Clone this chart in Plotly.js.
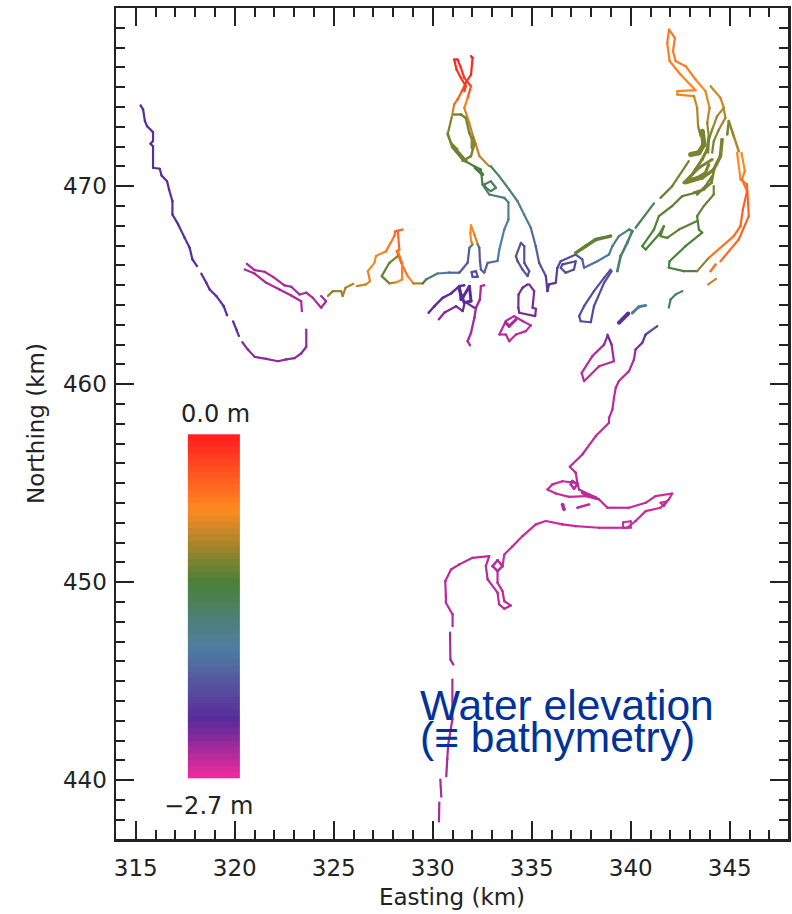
<!DOCTYPE html>
<html><head><meta charset="utf-8">
<script src="https://cdn.plot.ly/plotly-3.0.1.min.js"></script>
<style>html,body{margin:0;padding:0;background:#fff}</style></head>
<body><div id="chart" style="width:792px;height:914px"></div>
<script>
// Elevation colour scale (fraction of -2.7..0 m, colour)
const stops=[[0,'#ea2a9c'],[0.162,'#5a2a9b'],[0.38,'#4f7fa2'],[0.573,'#4a8036'],[0.786,'#ff8a20'],[1,'#ff2020']];
const colourbarLevels=[-2.7,-2.65,-2.6,-2.55,-2.5,-2.45,-2.4,-2.35,-2.3,-2.25,-2.2,-2.15,-2.1,-2.05,-2,-1.95,-1.9,-1.85,-1.8,-1.75,-1.7,-1.65,-1.6,-1.55,-1.5,-1.45,-1.4,-1.35,-1.3,-1.25,-1.2,-1.15,-1.1,-1.05,-1,-0.95,-0.9,-0.85,-0.8,-0.75,-0.7,-0.65,-0.6,-0.55,-0.5,-0.45,-0.4,-0.35,-0.3,-0.25,-0.2,-0.15,-0.1,-0.05,0];

// Easting km, Northing km, elevation m
const westAX=[315.24,315.37,315.46,315.57,315.87,315.87,315.74,315.87,315.87,316.21,316.30,316.58,316.68,316.85,316.85,317.14,317.47,317.72,317.86,318.09];
const westAY=[474.08,473.87,473.29,473.03,472.73,472.28,472.14,472.02,470.93,470.88,470.54,470.25,469.83,469.24,468.57,468.07,467.39,466.89,466.30,465.96];
const westBX=[318.31,318.56,318.73,319.07,319.44,319.61];
const westBY=[465.58,465.12,464.78,464.45,463.94,463.47];
const westCX=[319.91,320.08,320.21];
const westCY=[463.18,462.76,462.43];
const westDX=[320.38,320.66,321.0,321.59,322.18,322.6,323.02,323.35,323.61,323.61];
const westDY=[462.12,461.75,461.38,461.28,461.16,461.25,461.32,461.55,461.89,462.76];
const spitUpX=[320.61,321.0,321.5,321.93,322.51,322.85,323.27,323.61,323.94,324.36,324.61,324.36];
const spitUpY=[466.08,465.76,465.68,465.42,464.99,464.92,464.53,464.62,464.36,463.86,464.19,464.45];
const spitLoX=[320.5,321.0,321.59,322.26,322.85,323.35,323.39];
const spitLoY=[465.79,465.59,465.12,464.78,464.48,464.19,463.69];
const midAX=[324.70,324.95,325.37,325.45,325.59,325.99];
const midAY=[464.45,464.70,464.70,464.45,464.87,465.07];
const midAZ=[-0.95,-0.92,-0.9,-0.9,-0.85,-0.82];
const midBX=[326.16,326.63,326.83,326.72,327.05,327.13,327.64,328.06,328.11,328.48];
const midBY=[464.95,465.04,465.20,465.71,466.13,466.47,466.72,467.48,467.73,467.81];
const midBZ=[-0.8,-0.72,-0.7,-0.65,-0.6,-0.58,-0.5,-0.42,-0.38,-0.38];
const midCX=[328.23,328.31,328.18,328.40,328.73,329.02,329.49,329.66,330.24,330.84,331.34,331.76,331.85,332.01];
const midCY=[467.73,466.80,466.72,466.13,465.46,465.09,465.09,465.29,465.59,465.63,465.63,466.13,466.89,467.06];
const midCZ=[-0.38,-0.38,-0.38,-0.4,-0.5,-0.6,-1.1,-1.25,-1.6,-1.8,-1.9,-1.95,-1.95,-1.0];
const midLoopX=[328.23,327.81,327.42,327.81,328.18,328.45,328.45,328.23];
const midLoopY=[466.47,466.13,465.46,465.09,465.15,465.29,466.13,466.72];
const midLoopZ=[-0.95,-1.05,-1.1,-1.0,-0.7,-0.55,-0.5,-0.4];
const peakX=[332.01,331.93,331.9,331.93,332.10,332.27,332.35,332.38,332.43,332.6,332.77,333.27,333.36,333.61,333.82,333.82,333.61,332.85,332.51,332.43,332.09,331.50,331.0,330.75,330.97,331.08,331.25,331.47,331.67,331.93,332.01,331.93];
const peakY=[467.06,467.23,467.65,468.02,467.56,467.06,466.89,466.22,465.79,465.63,466.13,466.22,466.80,467.81,468.32,469.19,469.41,469.58,470.09,470.84,471.01,471.35,471.94,472.61,473.54,474.13,474.38,474.8,475.22,475.64,476.48,476.57];
const peakZ=[-1.0,-0.6,-0.55,-0.55,-0.6,-0.8,-1.9,-1.95,-1.95,-1.9,-1.85,-1.75,-1.7,-1.65,-1.6,-1.55,-1.5,-1.4,-1.3,-1.2,-1.15,-1.1,-1.05,-1.0,-1.0,-0.5,-0.35,-0.3,-0.15,-0.05,0,0];
const northAX=[331.08,331.25,331.42,331.59,331.93,331.76,331.59,331.84,332.01,332.18,332.35,332.85];
const northAY=[476.4,476.4,475.98,475.47,475.05,474.46,473.96,473.2,472.61,472.11,471.52,471.01];
const northAZ=[0,0,-0.05,-0.1,-0.15,-0.4,-0.65,-0.72,-0.78,-0.8,-0.78,-0.8];
const northBX=[331.08,331.2,331.42,331.67,331.59];
const northBY=[476.4,475.9,475.47,475.05,474.8];
const northBZ=[-0.02,-0.05,-0.08,-0.15,-0.2];
const innerX=[331.08,331.42,331.67,331.84,332.09,331.93,331.5];
const innerY=[473.62,473.62,473.45,472.7,472.11,471.52,471.27];
const loopShoreX=[331.0,331.67];
const loopShoreY=[472.02,471.27];
const loopFootX=[332.15,332.51];
const loopFootY=[470.93,470.59];
const loopCoreX=[332.01,332.01];
const loopCoreY=[472.44,471.94];
const loopEdgeX=[330.75,330.92,331.25];
const loopEdgeY=[472.7,472.19,471.85];
const channelX=[332.93,333.35,333.86,334.28,334.61,334.95,335.2,335.37,335.71,335.79];
const channelY=[471.01,470.51,469.83,469.24,468.57,467.9,466.97,466.13,465.46,464.7];
const channelZ=[-1.25,-1.35,-1.45,-1.55,-1.65,-1.75,-1.85,-1.95,-2.1,-2.2];
const diamondX=[332.6,332.93,333.19,332.93,332.68,332.6];
const diamondY=[470.09,470.25,469.92,469.75,469.92,470.09];
const outflowX=[335.79,335.87,336.21,336.29,336.46,337.22,337.55,337.64,338.31,338.9,339.07,339.4,339.91];
const outflowY=[464.7,465.04,465.12,465.88,466.21,466.55,466.3,465.88,466.21,466.55,466.97,467.48,467.81];
const outflowZ=[-2.2,-2.2,-2.15,-2.1,-2.05,-2.0,-1.95,-1.85,-1.75,-1.65,-1.55,-1.5,-1.4];
const outLoopX=[336.46,336.71,337.13,337.22,336.55,336.46];
const outLoopY=[465.88,465.63,465.79,466.21,466.05,465.88];
const greenBarX=[337.22,337.72,338.23,338.98];
const greenBarY=[466.63,466.97,467.31,467.48];
const tealX=[339.32,339.49,339.82,340.08,339.91];
const tealY=[465.71,466.47,467.14,467.73,467.81];
const purpleLoopX=[338.98,338.65,338.14,337.64,337.39,337.47,337.98,338.14,338.65,339.03];
const purpleLoopY=[465.79,465.37,464.7,463.94,463.44,463.18,463.13,463.94,465.12,465.71];
const darkBitX=[339.4,339.87];
const darkBitY=[463.1,463.57];
const blueBitX=[340.08,340.41,340.75];
const blueBitY=[463.6,463.91,463.98];
const tealBitX=[341.92,342.01,342.26,342.6];
const tealBitY=[463.86,464.28,464.53,464.7];
const brownBitX=[343.91,344.31];
const brownBitY=[465.04,465.32];
const orangeBitX=[344.03,344.28];
const orangeBitY=[465.71,466.05];
const rightAX=[341.93,342.23,342.13,342.26,342.77,343.27,343.77,343.98,343.86,343.94,343.91];
const rightAY=[477.91,477.49,476.82,476.32,476.06,475.39,474.8,473.96,473.2,472.53,471.69];
const rightAZ=[-0.45,-0.45,-0.5,-0.5,-0.5,-0.52,-0.6,-0.72,-0.85,-1.0,-1.0];
const rightBX=[341.93,341.84,341.96,342.51,343.27,342.35,342.35,343.19,343.35,343.40,343.52];
const rightBY=[477.91,477.24,476.32,475.64,474.85,474.8,474.63,474.55,473.96,473.03,472.53];
const rightBZ=[-0.45,-0.5,-0.5,-0.52,-0.55,-0.55,-0.6,-0.7,-0.78,-0.9,-1.0];
const massX=[343.61,343.69,343.44,343.02];
const massY=[472.78,472.11,471.69,471.6];
const diagAX=[342.93,342.09,341.5];
const diagAY=[471.27,470.0,469.41];
const diagAZ=[-1.0,-1.05,-1.1];
const diagBX=[341.17,340.24];
const diagBY=[469.13,467.9];
const diagBZ=[-1.2,-1.35];
const strandAX=[344.03,344.53,344.7,344.36,344.11,343.97];
const strandAY=[475.05,474.46,473.96,473.54,472.86,472.44];
const strandAZ=[-0.75,-0.75,-0.78,-0.85,-0.95,-1.0];
const strandBX=[344.7,344.78,344.45,344.19,344.11];
const strandBY=[473.87,473.45,472.86,472.27,471.69];
const strandBZ=[-0.78,-0.82,-0.92,-1.0,-1.0];
const strandCX=[344.87,344.95,345.2,345.45];
const strandCY=[472.61,473.29,472.53,471.77];
const strandCZ=[-1.0,-1.0,-0.9,-0.72];
const strandDX=[344.61,344.53,344.19,343.61,342.76];
const strandDY=[472.36,471.52,470.84,470.42,470.17];
const strandEX=[344.11,343.44,343.02,342.68];
const strandEY=[471.35,470.93,470.51,470.17];
const strandFX=[344.11,343.77,343.35];
const strandFY=[470.5,470.0,469.58];
const denseAX=[343.94,343.86,343.6,343.27,343.1];
const denseAY=[472.45,471.86,471.35,470.85,470.6];
const denseCX=[344.19,344.08,343.69,343.18];
const denseCY=[470.76,470.17,469.84,469.67];
const denseDX=[343.94,343.77,343.35,342.93];
const denseDY=[471.1,470.68,470.43,470.34];
const lobeAX=[344.19,344.19,343.69,343.35,343.44,343.61,342.76,341.96,341.92,342.68,343.35,343.94];
const lobeAY=[470.0,469.58,469.0,468.49,467.81,467.65,466.97,466.21,465.88,465.71,465.71,466.38];
const lobeAZ=[-1.0,-1.05,-1.05,-1.1,-1.15,-1.15,-1.15,-1.2,-1.2,-1.2,-1.15,-0.8];
const lobeBX=[343.69,343.27,342.6,342.09,341.42,341.17,340.58,340.75,341.42,341.67,341.5,341.84,342.43,343.35];
const lobeBY=[469.83,469.67,469.5,469.0,468.49,467.81,466.97,466.8,467.56,467.98,467.48,467.39,467.81,468.24];
const lobeBZ=[-1.0,-1.05,-1.1,-1.1,-1.1,-1.15,-1.2,-1.2,-1.15,-1.1,-1.1,-1.1,-1.1,-1.1];
const outerAX=[345.37,345.54,345.87,345.96,345.45,344.53];
const outerAY=[471.69,470.34,470.09,468.49,467.31,466.21];
const outerAZ=[-0.6,-0.55,-0.4,-0.35,-0.38,-0.4];
const outerBX=[345.59,345.76,345.62,345.87,345.66,345.54,345.2,343.94];
const outerBY=[471.69,470.76,470.34,469.75,468.82,467.98,467.48,466.38];
const outerBZ=[-0.6,-0.55,-0.5,-0.35,-0.35,-0.35,-0.4,-0.5];
const bankAX=[329.79,330.08,330.5,330.92,331.34,331.59];
const bankAY=[463.61,463.94,464.36,464.58,464.95,465.0];
const gridX=[331.34,331.43,331.51,331.85,331.93,331.59,331.34];
const gridY=[464.95,464.28,464.36,464.95,464.2,464.11,464.78];
const bankBX=[330.3,330.58,331.17,331.51,331.59];
const bankBY=[463.27,463.61,463.94,463.69,464.03];
const bankBZ=[-2.45,-2.42,-2.35,-2.3,-2.3];
const bankCX=[332.6,332.43,332.38,332.18,332.1,331.93,331.76,331.88];
const bankCY=[465.0,464.95,464.28,463.86,463.35,462.6,462.17,461.96];
const bankCZ=[-2.55,-2.55,-2.5,-2.45,-2.45,-2.5,-2.55,-2.55];
const bankDX=[331.71,332.1];
const bankDY=[464.11,463.86];
const squareX=[331.96,332.18,332.27,332.01,331.96];
const squareY=[465.66,465.71,465.42,465.42,465.66];
const slimX=[334.2,334.45,334.62,334.62,334.87,334.79,334.53,334.28,334.2];
const slimY=[466.47,467.14,466.97,466.13,465.71,465.46,465.79,466.22,466.47];
const shoalX=[334.79,334.53,334.33,334.32,334.37,335.17,335.21,335.04,335.12,334.87];
const shoalY=[465.04,464.87,464.53,463.86,463.61,463.44,463.81,463.86,464.7,465.04];
const pinkX=[333.36,333.69,334.11,334.53,334.95,334.7,334.2,333.86,333.69,333.36];
const pinkY=[462.51,463.19,463.44,463.19,462.97,462.68,462.51,462.17,462.51,462.51];
const pinkInX=[333.69,333.86,334.2];
const pinkInY=[463.1,462.93,463.27];
const isleX=[338.82,339.03,339.15,338.4,337.64,337.52,338.06,338.65,338.82];
const isleY=[462.5,462.0,461.16,460.91,460.15,460.57,461.42,462.0,462.43];
const isleZ=[-2.2,-2.4,-2.55,-2.55,-2.55,-2.55,-2.55,-2.5,-2.3];
const southAX=[341.34,340.75,340.58,340.24,340.16,339.91,339.4,339.24,339.15,339.07,338.9,338.9,338.23,337.55,336.92,337.22,337.3,337.39,337.89,338.4,338.82,339.91,340.75,341.25,342.09,341.92,341.5,340.75,340.24,339.82,338.4,337.22,336.55,335.71,335.2,334.53,334.03,333.61,333.52];
const southAY=[462.93,462.51,462.09,461.75,461.25,460.66,460.16,459.82,459.31,458.72,458.3,458.05,457.38,456.45,455.83,455.53,455.02,454.68,454.43,454.18,453.76,453.76,454.01,454.35,454.48,454.18,453.76,453.59,453.09,452.75,452.75,452.83,452.92,453.09,452.92,452.33,451.82,451.4,450.81];
const southAZ=[-2.0,-2.1,-2.3,-2.4,-2.5,-2.55,-2.55,-2.55,-2.55,-2.55,-2.55,-2.55,-2.55,-2.55,-2.55,-2.55,-2.55,-2.55,-2.55,-2.55,-2.58,-2.58,-2.58,-2.6,-2.6,-2.6,-2.6,-2.6,-2.6,-2.6,-2.6,-2.6,-2.6,-2.6,-2.6,-2.6,-2.6,-2.6,-2.6];
const smallLoopX=[333.52,333.27,333.02,333.27,333.52];
const smallLoopY=[450.81,451.11,450.81,450.56,450.81];
const southBX=[333.27,333.27,333.52,333.61,333.94,333.61,333.35,333.27,332.77,332.68,332.85,332.01,331.34,330.92,330.63,330.66,330.66,331.0,331.0];
const southBY=[450.56,449.97,449.55,449.04,448.82,448.66,448.88,449.47,450.14,450.81,451.32,451.23,450.9,450.64,450.05,449.3,448.96,448.37,447.78];
const southCX=[330.87,330.89,331.04];
const southCY=[447.45,446.09,445.84];
const southDX=[330.99,330.99,330.78,330.73,330.68];
const southDY=[445.08,443.08,441.8,441.05,440.19];
const southEX=[330.38,330.43];
const southEY=[440.03,439.17];
const southFX=[330.33,330.31];
const southFY=[438.87,437.91];
const barIsleX=[337.22,336.55,336.04,335.79,336.21,336.88,337.72,338.31];
const barIsleY=[455.02,455.1,454.94,454.68,454.48,454.31,454.35,454.21];
const barThickX=[337.56,338.23];
const barThickY=[454.52,454.26];
const ringX=[337.05,337.3,337.13,336.97,337.05];
const ringY=[455.11,454.94,454.72,454.94,455.11];
const blobAX=[336.55,336.63];
const blobAY=[453.93,453.67];
const blobBX=[337.3,337.89];
const blobBY=[453.76,453.93];
const boxX=[339.61,340.0,340.0,339.61,339.61];
const boxY=[453.03,453.08,452.75,452.75,453.03];
const tipX=[341.5,341.84,341.67,341.5];
const tipY=[454.01,454.09,453.84,454.01];

const xTickVals=[315,320,325,330,335,340,345];
const yTickVals=[440,450,460,470];

function colourAt(z){
  const f=Math.min(1,Math.max(0,(z+2.7)/2.7));
  for(let i=1;i<stops.length;i++){
    if(f<=stops[i][0]){
      const t=(f-stops[i-1][0])/(stops[i][0]-stops[i-1][0]);
      const a=stops[i-1][1],b=stops[i][1],c=[];
      for(let k=0;k<3;k++){
        const p=parseInt(a.substr(1+2*k,2),16),q=parseInt(b.substr(1+2*k,2),16);
        c.push(Math.round(p+(q-p)*t));
      }
      return 'rgb('+c.join(',')+')';
    }
  }
  return stops[stops.length-1][1];
}
const traces=[];
const barBottom=440.09,barTop=457.47,barDy=(barTop-barBottom)/colourbarLevels.length;
traces.push({type:'heatmap',x:[317.63,320.24],y0:barBottom+barDy/2,dy:barDy,z:colourbarLevels.map(v=>[v]),
  zmin:-2.7,zmax:0,colorscale:stops,showscale:false,hoverinfo:'skip'});
function draw(xs,ys,zs,w){
  w=w||2.2;
  for(let i=0;i<xs.length-1;i++){
    const z=zs.length===1?zs[0]:(zs[i]+zs[i+1])/2;
    const col=colourAt(z);
    traces.push({type:'scatter',mode:'lines+markers',x:[xs[i],xs[i+1]],y:[ys[i],ys[i+1]],
      line:{color:col,width:w},marker:{color:col,size:w},hoverinfo:'skip',showlegend:false});
  }
}
draw(westAX,westAY,[-2.25]);draw(westBX,westBY,[-2.28]);draw(westCX,westCY,[-2.3]);draw(westDX,westDY,[-2.42]);
draw(spitUpX,spitUpY,[-2.5]);draw(spitLoX,spitLoY,[-2.5]);
draw(midAX,midAY,midAZ);draw(midBX,midBY,midBZ);draw(midCX,midCY,midCZ);draw(midLoopX,midLoopY,midLoopZ);
draw(peakX,peakY,peakZ);draw(northAX,northAY,northAZ);draw(northBX,northBY,northBZ);draw(innerX,innerY,[-1.0],2.4);
draw(loopShoreX,loopShoreY,[-1.05],3.5);draw(loopFootX,loopFootY,[-1.2],3.5);draw(loopCoreX,loopCoreY,[-0.95],4);draw(loopEdgeX,loopEdgeY,[-1.0]);
draw(channelX,channelY,channelZ);draw(diamondX,diamondY,[-1.35]);
draw(outflowX,outflowY,outflowZ);draw(outLoopX,outLoopY,[-2.05]);
draw(greenBarX,greenBarY,[-1.08],3.5);draw(tealX,tealY,[-1.42],2.6);draw(purpleLoopX,purpleLoopY,[-2.05]);
draw(darkBitX,darkBitY,[-2.2],4);draw(blueBitX,blueBitY,[-1.7],3);draw(tealBitX,tealBitY,[-1.4]);draw(brownBitX,brownBitY,[-0.75]);draw(orangeBitX,orangeBitY,[-0.45],2.5);
draw(rightAX,rightAY,rightAZ);draw(rightBX,rightBY,rightBZ);draw(massX,massY,[-1.0],5);
draw(diagAX,diagAY,diagAZ);draw(diagBX,diagBY,diagBZ);
draw(strandAX,strandAY,strandAZ);draw(strandBX,strandBY,strandBZ);draw(strandCX,strandCY,strandCZ,2.5);draw(strandDX,strandDY,[-1.0],3.5);draw(strandEX,strandEY,[-1.0],3);draw(strandFX,strandFY,[-1.05],2.5);
draw(denseAX,denseAY,[-1.0],3);draw(denseCX,denseCY,[-1.02],2.5);draw(denseDX,denseDY,[-1.0],3);
draw(lobeAX,lobeAY,lobeAZ);draw(lobeBX,lobeBY,lobeBZ);draw(outerAX,outerAY,outerAZ);draw(outerBX,outerBY,outerBZ);
draw(bankAX,bankAY,[-2.28],2.4);draw(gridX,gridY,[-2.25],3);draw(bankBX,bankBY,bankBZ);draw(bankCX,bankCY,bankCZ,2.3);draw(bankDX,bankDY,[-2.35]);draw(squareX,squareY,[-2.0]);
draw(slimX,slimY,[-2.0]);draw(shoalX,shoalY,[-2.35]);draw(pinkX,pinkY,[-2.55]);draw(pinkInX,pinkInY,[-2.5],3);
draw(isleX,isleY,isleZ);draw(southAX,southAY,southAZ);draw(smallLoopX,smallLoopY,[-2.55],2.5);draw(southBX,southBY,[-2.55]);
draw(southCX,southCY,[-2.5]);draw(southDX,southDY,[-2.5]);draw(southEX,southEY,[-2.5]);draw(southFX,southFY,[-2.5]);
draw(barIsleX,barIsleY,[-2.6]);draw(barThickX,barThickY,[-2.55],3.5);draw(ringX,ringY,[-2.55],2.5);draw(blobAX,blobAY,[-2.55],3.5);draw(blobBX,blobBY,[-2.55],2.5);draw(boxX,boxY,[-2.6],2);draw(tipX,tipY,[-2.6],2);

const inkCol='#222222';
const tickFont={family:'DejaVu Sans',size:23,color:inkCol};
function axis(range,tick0,vals,titleText,standoff,labelStandoff){
  return {range:range,autorange:false,fixedrange:true,showgrid:false,zeroline:false,showline:true,linecolor:inkCol,linewidth:2.5,mirror:'allticks',
    ticks:'inside',ticklen:18,tickwidth:2.5,tickcolor:inkCol,tickmode:'array',tickvals:vals,ticktext:vals.map(String),tickfont:tickFont,
    ticklabelstandoff:labelStandoff,
    minor:{dtick:1,tick0:tick0,ticks:'inside',ticklen:9,tickwidth:2,tickcolor:inkCol,showgrid:false},
    title:{text:titleText,font:{family:'DejaVu Sans',size:23,color:inkCol},standoff:standoff}};
}
const layout={width:792,height:914,margin:{l:116,r:4,t:8,b:75},paper_bgcolor:'#fff',plot_bgcolor:'#fff',showlegend:false,hovermode:false,
  xaxis:axis([314,347.94],315,xTickVals,'Easting (km)',9,7),
  yaxis:axis([437.03,479],440,yTickVals,'Northing (km)',12,2),
  annotations:[
   {x:319.03,y:458.47,text:'0.0 m',showarrow:false,font:{family:'DejaVu Sans',size:24,color:inkCol}},
   {x:318.68,y:438.72,text:'\u22122.7 m',showarrow:false,font:{family:'DejaVu Sans',size:24,color:inkCol}},
   {x:329.25,y:443.77,xanchor:'left',yanchor:'middle',text:'Water elevation',showarrow:false,font:{family:'Liberation Sans',size:42.5,color:'#003399'}},
   {x:329.25,y:442.15,xanchor:'left',yanchor:'middle',text:'(\u2261 bathymetry)',showarrow:false,font:{family:'Liberation Sans',size:42.5,color:'#003399'}}
  ]};
Plotly.newPlot('chart',traces,layout,{displayModeBar:false,staticPlot:true});
</script></body></html>
